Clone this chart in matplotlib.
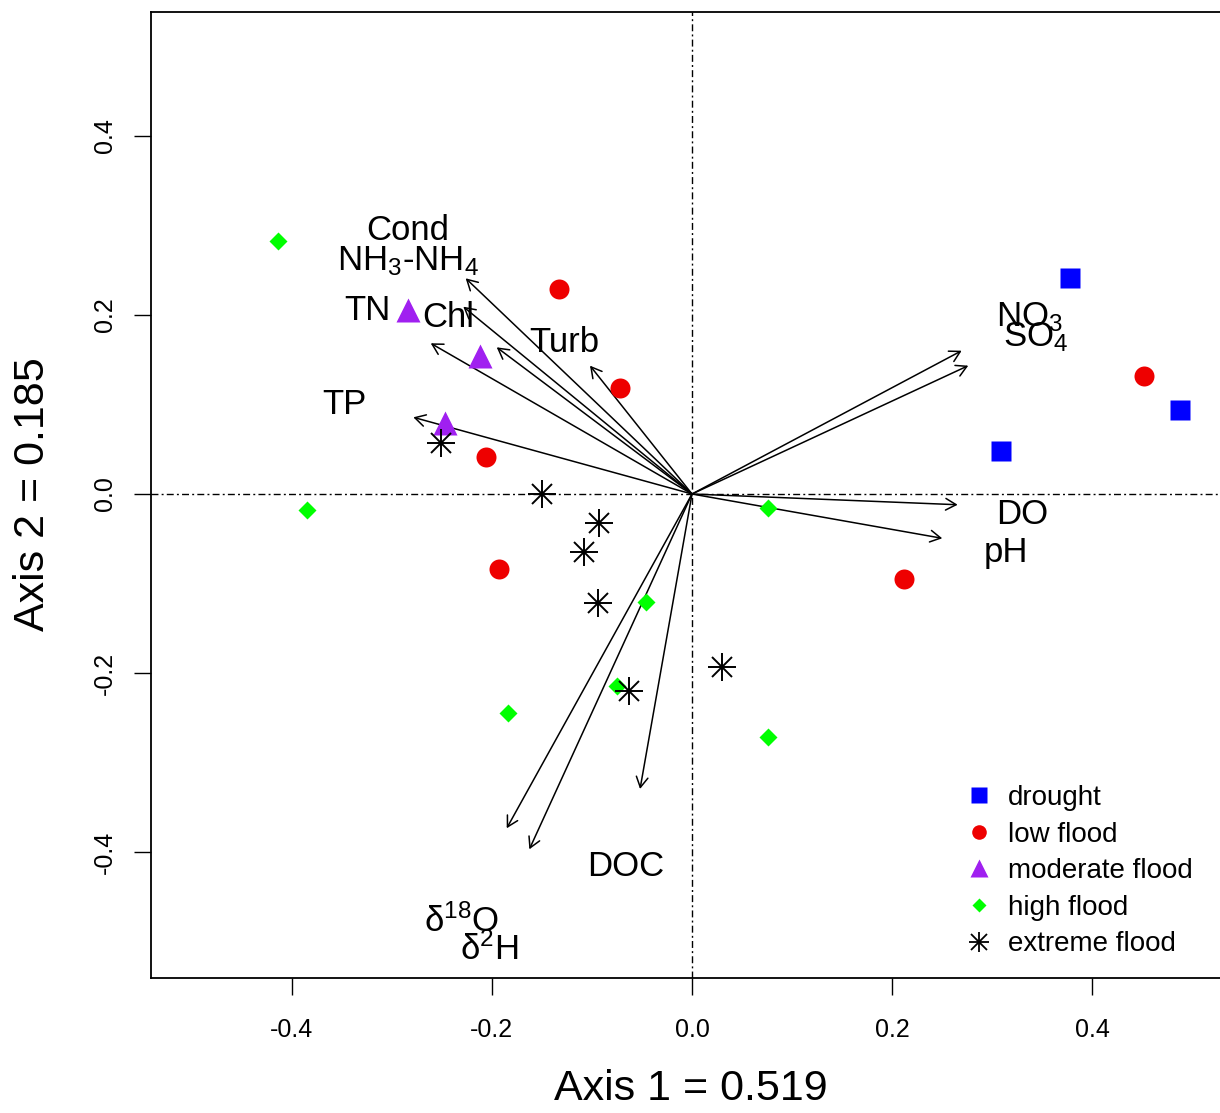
import matplotlib
matplotlib.use("Agg")
import matplotlib.pyplot as plt
from matplotlib.legend_handler import HandlerTuple

plt.rcParams['font.family'] = ['Liberation Sans', 'DejaVu Sans']
plt.rcParams['mathtext.fontset'] = 'custom'
plt.rcParams['mathtext.rm'] = 'Liberation Sans'
plt.rcParams['mathtext.it'] = 'Liberation Sans:italic'
plt.rcParams['mathtext.bf'] = 'Liberation Sans:bold'

# ---- site scores by group ----
drought_x = [0.3776, 0.4875, 0.3087]
drought_y = [0.2413, 0.0939, 0.0477]
low_x = [-0.1326, -0.0719, -0.2061, -0.1925, 0.4515, 0.2118]
low_y = [0.2287, 0.1181, 0.0417, -0.0841, 0.1318, -0.0950]
mod_x = [-0.2834, -0.2115, -0.2468]
mod_y = [0.2056, 0.1545, 0.0790]
high_x = [-0.4136, -0.3846, 0.0759, -0.0460, -0.0746, -0.1835, 0.0759]
high_y = [0.2827, -0.0179, -0.0156, -0.1210, -0.2145, -0.2450, -0.2715]
ext_x = [-0.2507, -0.1501, -0.0926, -0.1079, -0.0939, -0.0626, 0.0297]
ext_y = [0.0570, 0.0, -0.0321, -0.0645, -0.1215, -0.2198, -0.1930]

group_names = ["drought", "low flood", "moderate flood", "high flood", "extreme flood"]

# ---- environmental vectors (arrow tips) ----
vec_names = ["Cond", "NH3-NH4", "Chl", "TN", "Turb", "TP", "NO3", "SO4",
             "DO", "pH", "DOC", "d18O", "d2H"]
vec_x = [-0.2261, -0.2285, -0.1951, -0.2610, -0.1019, -0.2784, 0.2694, 0.2760,
         0.2654, 0.2500, -0.0519, -0.1851, -0.1625]
vec_y = [0.2410, 0.2093, 0.1639, 0.1684, 0.1434, 0.0857, 0.1601, 0.1434,
         -0.0120, -0.0495, -0.3296, -0.3735, -0.3970]

# ---- vector labels ----
lab_text = ["Cond", r"NH$_\mathregular{3}$-NH$_\mathregular{4}$", "TN", "Chl", "Turb", "TP",
            r"NO$_\mathregular{3}$", r"SO$_\mathregular{4}$", "DO", "pH", "DOC",
            r"δ$^\mathregular{18}$O", r"δ$^\mathregular{2}$H"]
lab_x = [-0.2842, -0.2842, -0.3247, -0.2438, -0.1279, -0.3477, 0.3367, 0.3437,
         0.3302, 0.3137, -0.0659, -0.2303, -0.2028]
lab_y = [0.2838, 0.2503, 0.1944, 0.1869, 0.1590, 0.0894, 0.1877, 0.1654,
         -0.0335, -0.0756, -0.4268, -0.4894, -0.5207]

xticks = [-0.4, -0.2, 0.0, 0.2, 0.4]
yticks = [-0.4, -0.2, 0.0, 0.2, 0.4]
xlabel = "Axis 1 = 0.519"
ylabel = "Axis 2 = 0.185"

W, H = 1220, 1113
fig = plt.figure(figsize=(W / 100, H / 100), dpi=100)
L, R, T, B = 151, 1225, 12, 977.5
ax = fig.add_axes([L / W, 1 - B / H, (R - L) / W, (B - T) / H])
ax.set_xlim((L - 692) / 1001, (R - 692) / 1001)
ax.set_ylim((494 - B) / 895, (494 - T) / 895)

for s in ax.spines.values():
    s.set_linewidth(1.3)

ax.axhline(0, color='black', lw=1.0, ls=(0, (5, 2.3, 1.4, 2.3)), zorder=1)
ax.axvline(0, color='black', lw=1.0, ls=(0, (5, 2.3, 1.4, 2.3)), zorder=1)

for vx, vy in zip(vec_x, vec_y):
    ax.annotate('', xy=(vx, vy), xytext=(0, 0),
                arrowprops=dict(arrowstyle='->,head_length=0.75,head_width=0.42',
                                lw=1.1, color='black', shrinkA=0, shrinkB=0,
                                mutation_scale=10), zorder=2)

for t, x, y in zip(lab_text, lab_x, lab_y):
    ax.text(x, y, t, fontsize=25, ha='center', va='baseline', zorder=4)

h1, = ax.plot(drought_x, drought_y, ls='none', marker='s', ms=14.4, color='#0000FF', mec='none', zorder=3)
h2, = ax.plot(low_x, low_y, ls='none', marker='o', ms=14.4, color='#EE0000', mec='none', zorder=3)
h3, = ax.plot(mod_x, mod_y, ls='none', marker='^', ms=17, color='#A020F0', mec='none', zorder=3)
h4, = ax.plot(high_x, high_y, ls='none', marker='D', ms=9.2, color='#00FF00', mec='none', zorder=3)
h5a, = ax.plot(ext_x, ext_y, ls='none', marker='+', ms=19.5, mew=1.4, color='black', zorder=3)
h5b, = ax.plot(ext_x, ext_y, ls='none', marker='x', ms=14.2, mew=1.4, color='black', zorder=3)

# legend handles (smaller markers)
lh1, = ax.plot([], [], ls='none', marker='s', ms=11, color='#0000FF', mec='none')
lh2, = ax.plot([], [], ls='none', marker='o', ms=10.5, color='#EE0000', mec='none')
lh3, = ax.plot([], [], ls='none', marker='^', ms=13, color='#A020F0', mec='none')
lh4, = ax.plot([], [], ls='none', marker='D', ms=7, color='#00FF00', mec='none')
lh5a, = ax.plot([], [], ls='none', marker='+', ms=15, mew=1.3, color='black')
lh5b, = ax.plot([], [], ls='none', marker='x', ms=11, mew=1.3, color='black')

leg = ax.legend([lh1, lh2, lh3, lh4, (lh5a, lh5b)], group_names,
                handler_map={tuple: HandlerTuple(ndivide=1, pad=0)},
                loc='upper left', bbox_to_anchor=(965 / W, 1 - 785 / H),
                bbox_transform=fig.transFigure, frameon=False, fontsize=20,
                handlelength=1.0, handletextpad=0.55, labelspacing=0.38,
                borderpad=0, borderaxespad=0)

ax.set_xticks(xticks)
ax.set_xticklabels([f"{v:.1f}" for v in xticks])
ax.set_yticks(yticks)
ax.set_yticklabels([f"{v:.1f}" for v in yticks], rotation=90, va='center')
ax.tick_params(axis='both', direction='out', length=12.5, width=1.0, labelsize=18)
ax.tick_params(axis='x', pad=17)
ax.tick_params(axis='y', pad=12)

fig.text(691 / W, 1 - 1089 / H, xlabel, fontsize=31, ha='center', va='center')
fig.text(33 / W, 1 - 494 / H, ylabel, fontsize=31, ha='center', va='center', rotation=90)

fig.savefig("out.png", dpi=100)
